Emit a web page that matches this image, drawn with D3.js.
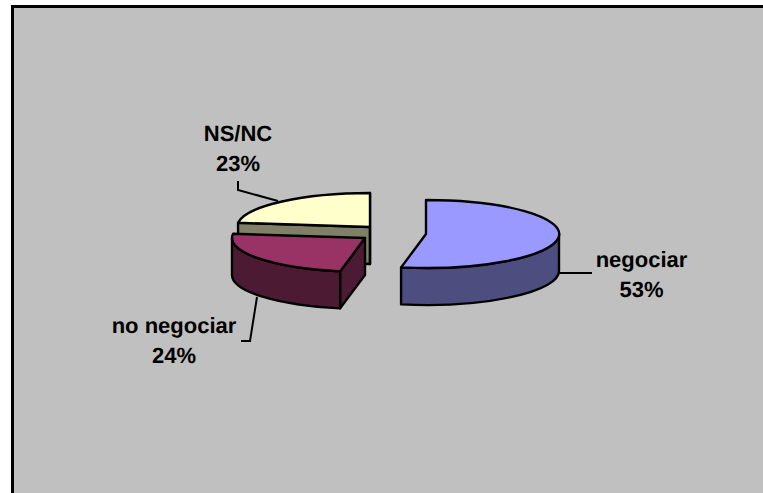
<!DOCTYPE html>
<html><head><meta charset="utf-8">
<script src="https://cdnjs.cloudflare.com/ajax/libs/d3/7.8.5/d3.min.js"></script>
<style>html,body{margin:0;padding:0;background:#fff}svg{display:block}</style></head>
<body><script>
const categories=["negociar","no negociar","NS/NC"];
const shares=[53,24,23];
const topColors=["#9999ff","#993366","#ffffcc"];
const sideColors=["#4d4d80","#4d1a33","#808066"];
const W=763,H=493,RX=133,RY=34,D=37;
const centers=[[426,234],[365,238],[370,227]];
const svg=d3.select("body").append("svg").attr("width",W).attr("height",H);
svg.append("rect").attr("x",12).attr("y",6).attr("width",W-12).attr("height",H-6).attr("fill","#c0c0c0");
svg.append("path").attr("d",`M${W},6.5H12.5V${H}`).attr("fill","none").attr("stroke","#000").attr("stroke-width",3);
const arcs=d3.pie().sort(null).value(d=>d)(shares);
const arcGen=d3.arc().innerRadius(0).outerRadius(1);
const pt=(c,a,dy=0)=>[c[0]+RX*Math.sin(a),c[1]-RY*Math.cos(a)+dy];
function wallOuter(c,a0,a1){
  const p=pt(c,a0),q=pt(c,a1);
  return `M${p}A${RX},${RY} 0 0 1 ${q}L${q[0]},${q[1]+D}A${RX},${RY} 0 0 0 ${p[0]},${p[1]+D}Z`;
}
function wallCut(c,a){const q=pt(c,a);return `M${c}L${q}L${q[0]},${q[1]+D}L${c[0]},${c[1]+D}Z`;}
const g=svg.append("g").attr("stroke","#000").attr("stroke-width",2.4).attr("stroke-linejoin","round");
[2,0,1].forEach(i=>{
  const a=arcs[i],c=centers[i],HP=Math.PI;
  const gi=g.append("g");
  const a0=Math.max(a.startAngle,HP/2),a1=Math.min(a.endAngle,HP*1.5);
  if(i===2){ gi.append("path").attr("d",wallCut(c,a.startAngle)).attr("fill",sideColors[i]);
             gi.append("path").attr("d",wallCut(c,a.endAngle)).attr("fill",sideColors[i]); }
  if(i===1){ gi.append("path").attr("d",wallCut(c,a.startAngle)).attr("fill",sideColors[i]); }
  if(a1>a0) gi.append("path").attr("d",wallOuter(c,a0,a1)).attr("fill",sideColors[i]);
  gi.append("path").attr("d",arcGen(a))
    .attr("transform",`translate(${c[0]},${c[1]}) scale(${RX},${RY})`)
    .attr("vector-effect","non-scaling-stroke").attr("fill",topColors[i]);
});
const leaders=[[[558,273],[592,273]],[[257,297],[250,341],[241,341]],[[278,201],[238,190],[238,181]]];
const line=d3.line();
svg.selectAll("path.leader").data(leaders).join("path").attr("class","leader").attr("d",d=>line(d))
  .attr("fill","none").attr("stroke","#000").attr("stroke-width",2);
const labelPos=[[641.5,267],[174,333],[238,141]];
const lab=svg.append("g").attr("font-family","'Liberation Sans',Arial,sans-serif").attr("font-weight","bold").attr("font-size",22).attr("fill","#000").attr("text-anchor","middle").attr("text-rendering","geometricPrecision");
categories.forEach((n,i)=>{
  lab.append("text").attr("x",labelPos[i][0]).attr("y",labelPos[i][1]).text(n);
  lab.append("text").attr("x",labelPos[i][0]).attr("y",labelPos[i][1]+29.5).text(shares[i]+"%");
});
</script></body></html>
